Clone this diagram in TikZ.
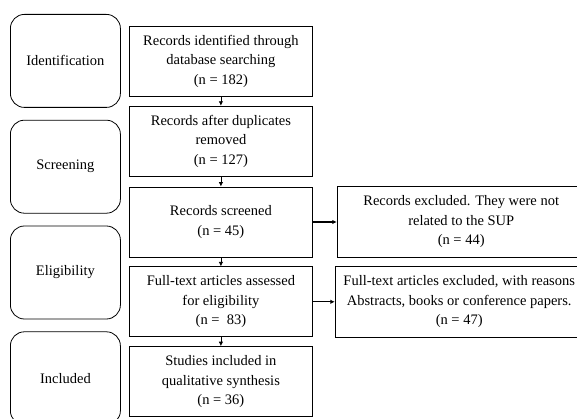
\documentclass[tikz,border=0pt]{standalone}
\usepackage{fontspec}
\setmainfont{Liberation Serif}
\usetikzlibrary{arrows.meta, positioning}

\begin{document}
\begin{tikzpicture}[x=1pt, y=1pt, font=\fontsize{14.5}{19.5}\selectfont,
                    every node/.style={draw, line width=0.8pt, align=center, inner sep=0pt},
                    box/.style={minimum width=183pt, minimum height=70pt},
                    phase/.style={rounded corners=14pt, minimum width=110pt, minimum height=93pt},
                    side/.style={minimum width=248pt, minimum height=71pt},
                    arr/.style={-{Latex[length=4.5pt, width=4.5pt]}, line width=0.8pt}]
                    \clip (0,0) rectangle (577,-419);
                    \coordinate (nw) at (0,0);
                    \node[box, below right=26pt and 129pt of nw](ident){Records identified through\\database searching\\(n = 182)};
                    \node[box, below=9pt of ident](dupl){Records after duplicates\\removed\\(n = 127)};
                    \node[box, below=10pt of dupl](screen){Records screened\\(n = 45)};
                    \node[box, below=9pt of screen](elig){Full-text articles assessed\\for eligibility\\(n =~~83)};
                    \node[box, below=9pt of elig](incl){Studies included in\\qualitative synthesis\\(n = 36)};
                    \node[phase, below right=14pt and 10pt of nw](idlab){Identification};
                    \node[phase, below=12pt of idlab](scrlab){Screening};
                    \node[phase, below=12pt of scrlab](eliglab){Eligibility};
                    \node[phase, below=12pt of eliglab](incllab){Included};
                    \node[side, right=24pt of screen](excl){Records excluded. They were not\\related to the SUP\\(n = 44)};
                    \node[side, right=22pt of elig](fullexcl){Full-text articles excluded, with reasons\\Abstracts, books or conference papers.\\(n = 47)};
                    \draw[arr] (ident) -- (dupl);
                    \draw[arr] (dupl) -- (screen);
                    \draw[arr] (screen) -- (elig);
                    \draw[arr] (elig) -- (incl);
                    \draw[arr, line width=1.3pt] (screen) -- (excl);
                    \draw[arr, line width=1.3pt] (elig) -- (fullexcl);
                \end{tikzpicture}
\end{document}
